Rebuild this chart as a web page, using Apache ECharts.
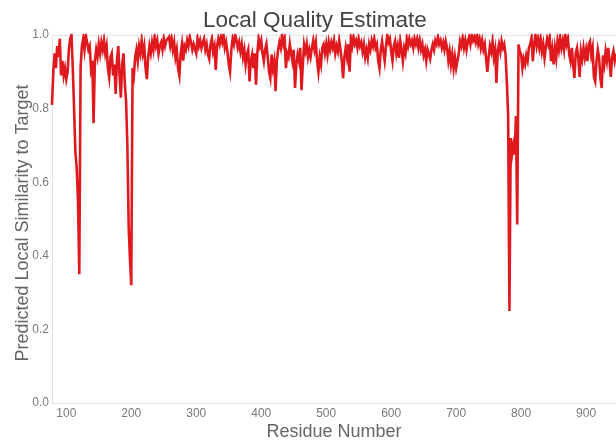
<!DOCTYPE html>
<html>
<head>
<meta charset="utf-8">
<script src="https://cdn.jsdelivr.net/npm/echarts@6/dist/echarts.min.js"></script>
<style>
html,body{margin:0;padding:0;background:#fff;}
#chart{width:616px;height:447px;}
</style>
</head>
<body>
<div id="chart"></div>
<script>
// Residue numbering of the first plotted value and spacing between values
const firstResidue = 78;
const residueStep = 2;

// Predicted local similarity (one value per residueStep residues)
const scores = [
  0.81, 0.90, 0.95, 0.91, 0.97, 0.94, 0.99, 0.89, 0.93, 0.89,
  0.91, 0.88, 0.90, 0.96, 0.99, 1.0, 0.91, 0.80, 0.68, 0.64,
  0.55, 0.35, 0.91, 0.97, 0.99, 0.96, 1.0, 0.98, 0.96, 0.97,
  0.91, 0.93, 0.76, 0.93, 0.96, 0.94, 0.975, 0.95, 0.98, 0.96,
  0.985, 0.95, 0.97, 0.91, 0.885, 0.94, 0.95, 0.89, 0.92, 0.84,
  0.93, 0.97, 0.89, 0.83, 0.92, 0.95, 0.87, 0.82, 0.70, 0.48,
  0.39, 0.32, 0.91, 0.89, 0.94, 0.96, 0.93, 0.97, 0.95, 0.985,
  0.95, 0.97, 0.91, 0.88, 0.94, 0.97, 0.95, 0.98, 0.96, 0.995,
  0.97, 0.985, 0.95, 0.97, 0.98, 0.96, 0.99, 0.97, 0.985, 0.99,
  0.995, 0.97, 0.99, 0.96, 0.98, 0.94, 0.96, 0.91, 0.89, 0.95,
  0.975, 0.93, 0.97, 0.96, 0.985, 0.97, 0.995, 0.98, 0.96, 0.975,
  0.98, 0.95, 0.99, 0.97, 0.985, 0.965, 0.98, 0.99, 0.96, 0.975,
  0.947, 0.935, 0.975, 0.99, 0.955, 0.97, 0.905, 0.97, 0.99, 0.975,
  0.995, 0.98, 1.0, 0.965, 0.98, 0.955, 0.92, 0.90, 0.96, 0.99,
  0.975, 1.0, 0.985, 0.965, 0.98, 0.955, 0.975, 0.94, 0.96, 0.92,
  0.947, 0.96, 0.874, 0.93, 0.947, 0.91, 0.95, 0.865, 0.95, 0.99,
  0.97, 0.985, 0.95, 0.929, 0.96, 0.975, 0.94, 0.90, 0.883, 0.947,
  0.91, 0.93, 0.847, 0.929, 0.96, 0.98, 0.965, 1.0, 0.975, 0.99,
  0.91, 0.95, 0.94, 0.975, 0.95, 0.929, 0.96, 0.856, 0.92, 0.947,
  0.93, 0.965, 0.85, 0.92, 0.974, 0.955, 0.975, 0.94, 0.96, 0.94,
  0.965, 0.985, 0.96, 0.98, 0.93, 0.90, 0.94, 0.92, 0.965, 0.974,
  0.95, 0.975, 0.947, 0.98, 0.96, 0.98, 0.965, 0.985, 0.95, 0.97,
  0.955, 0.985, 0.96, 0.93, 0.883, 0.94, 0.965, 0.94, 0.975, 0.90,
  0.99, 0.97, 0.995, 0.975, 0.985, 0.965, 0.99, 0.97, 0.98, 0.955,
  0.975, 0.94, 0.96, 0.938, 0.975, 0.96, 0.985, 0.97, 0.99, 0.965,
  0.975, 0.93, 0.91, 0.96, 0.983, 0.955, 0.93, 0.97, 1.0, 0.98,
  0.99, 0.955, 0.93, 0.97, 0.983, 0.95, 0.97, 0.938, 0.983, 0.96,
  0.929, 0.965, 0.95, 0.99, 0.97, 0.99, 0.975, 0.985, 0.965, 0.99,
  0.975, 0.99, 0.965, 0.985, 0.96, 0.975, 0.945, 0.96, 0.93, 0.96,
  0.965, 0.935, 0.96, 0.975, 0.96, 0.985, 0.975, 0.995, 0.975, 0.985,
  0.965, 0.98, 0.96, 0.983, 0.965, 0.93, 0.955, 0.92, 0.947, 0.91,
  0.94, 0.91, 0.93, 0.95, 0.983, 0.97, 0.992, 0.965, 0.985, 0.96,
  0.983, 0.995, 0.975, 1.0, 0.985, 0.995, 0.98, 1.0, 0.975, 0.99,
  0.965, 0.985, 0.96, 0.975, 0.938, 0.90, 0.94, 0.97, 0.955, 0.983,
  0.94, 0.96, 0.87, 0.956, 0.975, 0.955, 0.983, 0.965, 0.975, 0.947,
  0.874, 0.78, 0.25, 0.72, 0.675, 0.70, 0.675, 0.78, 0.485, 0.974,
  0.955, 0.947, 0.91, 0.935, 0.92, 0.945, 0.93, 0.965, 0.975, 0.992,
  0.929, 0.975, 1.0, 0.97, 0.99, 0.965, 0.99, 0.955, 0.975, 0.938,
  0.965, 0.99, 0.975, 0.995, 0.929, 0.96, 0.92, 0.965, 0.938, 0.983,
  0.96, 0.992, 0.965, 0.985, 0.96, 1.0, 0.975, 0.99, 0.947, 0.929,
  0.965, 0.92, 0.883, 0.95, 0.965, 0.938, 0.886, 0.956, 0.935, 0.965,
  0.938, 0.96, 0.929, 0.975, 0.983, 0.945, 0.965, 0.886, 0.874, 0.929,
  0.96, 0.938, 0.883, 0.856, 0.945, 0.92, 0.955, 0.93, 0.965, 0.929,
  0.886, 0.94, 0.956, 0.93, 0.95
];

// Axis tick labels
const xTicks = [100, 200, 300, 400, 500, 600, 700, 800, 900];
const yTicks = [0, 0.2, 0.4, 0.6, 0.8, 1.0];

const xMin = 78, xMax = 946;

const points = scores.map((v, i) => [firstResidue + i * residueStep, v]);

const FONT = '"Liberation Sans", Arial, sans-serif';
const gridColor = '#e3e3e3';
const labelColor = '#7a7a7a';

const chart = echarts.init(document.getElementById('chart'), null, {renderer: 'canvas'});
chart.setOption({
  animation: false,
  backgroundColor: '#ffffff',
  textStyle: {fontFamily: FONT},
  title: {
    text: 'Local Quality Estimate',
    left: 198,
    top: 4,
    textStyle: {fontSize: 22.5, fontWeight: 'normal', color: '#444', fontFamily: FONT}
  },
  grid: {left: 52, right: 0, top: 35, bottom: 44, outerBoundsMode: 'none', containLabel: false},
  xAxis: [{
    type: 'value',
    min: xMin,
    max: xMax,
    name: 'Residue Number',
    nameLocation: 'middle',
    nameGap: 20,
    nameMoveOverlap: false,
    nameTextStyle: {fontSize: 18, color: '#666', fontFamily: FONT},
    axisLine: {show: true, lineStyle: {color: gridColor, width: 1}},
    axisTick: {show: false},
    splitLine: {show: false},
    axisLabel: {
      customValues: xTicks,
      color: labelColor,
      fontSize: 12,
      margin: 5,
      fontFamily: FONT
    }
  }, {
    type: 'value',
    position: 'top',
    min: xMin,
    max: xMax,
    axisLine: {show: true, lineStyle: {color: gridColor, width: 1}},
    axisTick: {show: false},
    axisLabel: {show: false},
    splitLine: {show: false}
  }],
  yAxis: {
    type: 'value',
    min: 0,
    max: 1,
    interval: 0.2,
    name: 'Predicted Local Similarity to Target',
    nameLocation: 'middle',
    nameGap: 20,
    nameMoveOverlap: false,
    nameTextStyle: {fontSize: 18, color: '#666', fontFamily: FONT, padding: [0, 8, 0, 0]},
    axisLine: {show: true, lineStyle: {color: gridColor, width: 1}},
    axisTick: {show: false},
    splitLine: {show: false},
    axisLabel: {
      customValues: yTicks,
      color: labelColor,
      fontSize: 12,
      margin: 3,
      fontFamily: FONT,
      formatter: v => v.toFixed(1)
    }
  },
  series: [{
    type: 'line',
    data: points,
    showSymbol: false,
    smooth: false,
    clip: true,
    lineStyle: {color: '#e0191f', width: 2.6, join: 'miter'},
    itemStyle: {color: '#e0191f'}
  }]
});
</script>
</body>
</html>
